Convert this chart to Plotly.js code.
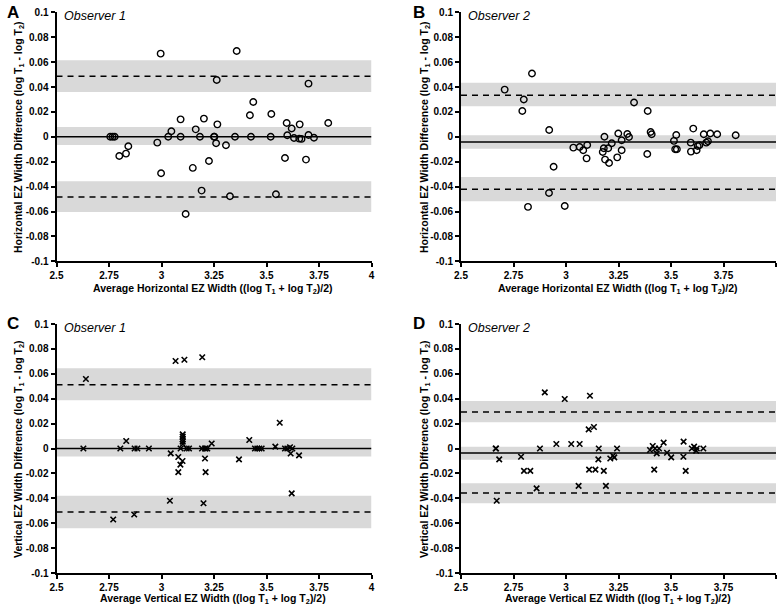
<!DOCTYPE html>
<html>
<head>
<meta charset="utf-8">
<script src="https://cdn.plot.ly/plotly-3.0.1.min.js"></script>
<style>html,body{margin:0;padding:0;background:#fff;}#chart{width:779px;height:606px;}</style>
</head>
<body>
<div id="chart"></div>
<script>
// ---------- Data ----------
const xTickVals = [2.5, 2.75, 3, 3.25, 3.5, 3.75, 4];
const xTickText = ['2.5', '2.75', '3', '3.25', '3.5', '3.75', '4'];
const yTickVals = [-0.1, -0.08, -0.06, -0.04, -0.02, 0, 0.02, 0.04, 0.06, 0.08, 0.1];
const yTickText = ['-0.1', '-0.08', '-0.06', '-0.04', '-0.02', '0', '0.02', '0.04', '0.06', '0.08', '0.1'];
const xRange = [2.5, 4];
const yRange = [-0.1, 0.1];

const panelLetters = ['A', 'B', 'C', 'D'];
const observerLabels = ['Observer 1', 'Observer 2', 'Observer 1', 'Observer 2'];

// Panel A: horizontal, observer 1
const aX = [2.756, 2.767, 2.777, 2.799, 2.831, 2.842, 2.98, 2.996, 2.998, 3.032, 3.047, 3.091, 3.091, 3.115, 3.149, 3.163, 3.183, 3.191, 3.202, 3.226, 3.25, 3.252, 3.26, 3.263, 3.266, 3.307, 3.326, 3.35, 3.358, 3.421, 3.426, 3.437, 3.52, 3.523, 3.545, 3.588, 3.596, 3.599, 3.62, 3.631, 3.656, 3.658, 3.667, 3.688, 3.70, 3.70, 3.726, 3.794];
const aY = [0, 0, 0, -0.0154, -0.0135, -0.0076, -0.0047, 0.0668, -0.0293, 0, 0.0044, 0.014, 0, -0.062, -0.025, 0.006, 0, -0.0432, 0.0146, -0.0194, 0, 0, -0.0052, 0.0456, 0.010, -0.0068, -0.0478, 0, 0.0689, 0.0173, 0, 0.028, 0, 0.0183, -0.0462, -0.017, 0.0111, 0.0013, 0.0067, -0.001, -0.0015, 0.010, -0.0017, -0.0183, 0.0427, 0.0015, -0.0008, 0.0111];

// Panel B: horizontal, observer 2
const bX = [2.708, 2.792, 2.799, 2.819, 2.838, 2.919, 2.92, 2.941, 2.994, 3.035, 3.065, 3.082, 3.098, 3.101, 3.175, 3.18, 3.183, 3.186, 3.201, 3.205, 3.218, 3.244, 3.249, 3.265, 3.265, 3.292, 3.30, 3.324, 3.387, 3.389, 3.403, 3.408, 3.514, 3.525, 3.52, 3.528, 3.594, 3.595, 3.606, 3.622, 3.627, 3.635, 3.656, 3.668, 3.676, 3.687, 3.72, 3.808];
const bY = [0.0379, 0.0207, 0.0299, -0.0563, 0.0508, -0.0451, 0.0055, -0.024, -0.0556, -0.0087, -0.0082, -0.0108, -0.0173, -0.0066, -0.0122, -0.0092, 0, -0.0183, -0.0092, -0.021, -0.0052, -0.0165, 0.0026, -0.0028, -0.0108, 0.0022, -0.0002, 0.0275, -0.0138, 0.0207, 0.0039, 0.002, -0.0033, 0.0015, -0.010, -0.010, -0.0047, -0.0119, 0.0066, -0.0108, -0.0074, -0.0068, 0.002, -0.0047, -0.0036, 0.0026, 0.002, 0.0012];

// Panel C: vertical, observer 1
const cX = [2.628, 2.64, 2.77, 2.804, 2.832, 2.87, 2.872, 2.885, 2.94, 3.04, 3.044, 3.067, 3.08, 3.08, 3.09, 3.091, 3.1, 3.101, 3.101, 3.101, 3.101, 3.101, 3.109, 3.12, 3.131, 3.193, 3.194, 3.2, 3.207, 3.207, 3.21, 3.21, 3.218, 3.239, 3.369, 3.418, 3.445, 3.456, 3.466, 3.477, 3.542, 3.563, 3.588, 3.599, 3.612, 3.615, 3.62, 3.623, 3.655];
const cY = [0, 0.0558, -0.057, 0, 0.006, -0.053, 0, 0, 0, -0.042, -0.0039, 0.0703, -0.0068, -0.019, -0.013, 0, -0.010, 0.0114, 0.0095, 0.0074, 0.0055, 0.0036, 0.0713, 0, 0, 0, 0.0733, -0.044, 0, -0.008, 0, -0.019, 0, 0.004, -0.0087, 0.0068, 0, 0, 0, 0, 0.0015, 0.0207, 0, 0, 0.001, -0.004, -0.036, 0, -0.0055];

// Panel D: vertical, observer 2
const dX = [2.665, 2.667, 2.67, 2.682, 2.786, 2.80, 2.83, 2.86, 2.876, 2.899, 2.954, 2.994, 3.025, 3.06, 3.065, 3.108, 3.11, 3.114, 3.133, 3.14, 3.154, 3.156, 3.18, 3.19, 3.211, 3.224, 3.23, 3.243, 3.40, 3.413, 3.42, 3.424, 3.432, 3.443, 3.465, 3.481, 3.501, 3.559, 3.56, 3.57, 3.599, 3.61, 3.62, 3.623, 3.654];
const dY = [0, 0, -0.042, -0.0087, -0.0066, -0.018, -0.018, -0.032, 0, 0.0451, 0.0036, 0.0398, 0.0036, -0.030, 0.0036, 0.0154, -0.017, 0.0424, 0.0173, -0.017, -0.0087, 0, -0.018, -0.030, -0.008, -0.0058, -0.0071, 0, -0.0012, 0.002, -0.017, 0, -0.0039, 0, 0.0047, -0.0034, -0.0071, -0.0066, 0.0055, -0.018, 0, 0.0015, -0.0018, 0, 0];

// Bland-Altman statistics per panel: bias, bias CI, upper LoA, upper CI, lower LoA, lower CI
const biasVals = [0, -0.0042, 0, -0.0036];
const biasCI = [[-0.0065, 0.0078], [-0.0095, 0.0012], [-0.0065, 0.0076], [-0.009, 0.0015]];
const upperVals = [0.0486, 0.0333, 0.0513, 0.0293];
const upperCI = [[0.036, 0.0614], [0.0245, 0.0435], [0.0387, 0.0644], [0.021, 0.0382]];
const lowerVals = [-0.0483, -0.0422, -0.051, -0.0357];
const lowerCI = [[-0.0604, -0.0357], [-0.0518, -0.0323], [-0.064, -0.038], [-0.044, -0.028]];

const yTitles = [
  'Horizontal EZ Width Difference (log T<sub>1</sub> - log T<sub>2</sub>)',
  'Horizontal EZ Width Difference (log T<sub>1</sub> - log T<sub>2</sub>)',
  'Vertical EZ Width Difference (log T<sub>1</sub> - log T<sub>2</sub>)',
  'Vertical EZ Width Difference (log T<sub>1</sub> - log T<sub>2</sub>)'
];
const xTitles = [
  'Average Horizontal EZ Width ((log T<sub>1</sub> + log T<sub>2</sub>)/2)',
  'Average Horizontal EZ Width ((log T<sub>1</sub> + log T<sub>2</sub>)/2)',
  'Average Vertical EZ Width ((log T<sub>1</sub> + log T<sub>2</sub>)/2)',
  'Average Vertical EZ Width ((log T<sub>1</sub> + log T<sub>2</sub>)/2)'
];

// ---------- Layout geometry (pixels) ----------
const W = 779, H = 606;
const FONT = 'Arial, "Liberation Sans", sans-serif';
const panelPx = [
  {x0: 56.5, x1: 371.5, y0: 12.3, y1: 261.3},
  {x0: 461, x1: 776, y0: 12.3, y1: 261.3},
  {x0: 56.5, x1: 371.5, y0: 324, y1: 573},
  {x0: 461, x1: 776, y0: 324, y1: 573}
];
const letterPos = [[13, 12], [419, 12], [13, 323], [419, 323]];
const yTitlePos = [[19, 137], [425, 137], [19, 449], [425, 449]];
const xTitlePos = [[213, 288.5], [618, 288.5], [213, 599], [618, 599]];

const px2x = p => p / W;
const px2y = p => 1 - p / H;

const series = [[aX, aY, 'circle-open'], [bX, bY, 'circle-open'], [cX, cY, 'x-thin-open'], [dX, dY, 'x-thin-open']];

const traces = [];
const shapes = [];
const annotations = [];
const layout = {
  width: W, height: H,
  margin: {l: 0, r: 0, t: 0, b: 0},
  paper_bgcolor: '#ffffff', plot_bgcolor: 'rgba(0,0,0,0)',
  showlegend: false,
  font: {family: FONT, color: '#000'}
};

for (let i = 0; i < 4; i++) {
  const sfx = i === 0 ? '' : String(i + 1);
  const xa = 'x' + sfx, ya = 'y' + sfx;
  const p = panelPx[i];
  const axisCommon = {
    showline: true, linecolor: '#000', linewidth: 2,
    ticks: 'outside', ticklen: 4, tickwidth: 2, tickcolor: '#000',
    showgrid: false, zeroline: false, fixedrange: true,
    tickfont: {family: FONT, size: 10, weight: 'bold', color: '#000'}
  };
  layout['xaxis' + sfx] = Object.assign({}, axisCommon, {
    domain: [px2x(p.x0), px2x(p.x1)], anchor: ya, range: xRange,
    tickmode: 'array', tickvals: xTickVals, ticktext: xTickText
  });
  layout['yaxis' + sfx] = Object.assign({}, axisCommon, {
    domain: [px2y(p.y1), px2y(p.y0)], anchor: xa, range: yRange,
    tickmode: 'array', tickvals: yTickVals, ticktext: yTickText
  });

  // CI bands
  [biasCI[i], upperCI[i], lowerCI[i]].forEach(ci => {
    shapes.push({type: 'rect', xref: xa, yref: ya, x0: xRange[0], x1: xRange[1], y0: ci[0], y1: ci[1],
      fillcolor: '#d9d9d9', line: {width: 0}, layer: 'below'});
  });
  // bias line (solid)
  traces.push({x: xRange, y: [biasVals[i], biasVals[i]], xaxis: xa, yaxis: ya, mode: 'lines',
    line: {color: '#000', width: 1.5}, hoverinfo: 'skip'});
  // limits of agreement (dashed)
  [upperVals[i], lowerVals[i]].forEach(v => {
    traces.push({x: xRange, y: [v, v], xaxis: xa, yaxis: ya, mode: 'lines',
      line: {color: '#000', width: 1.5, dash: '6px,5px'}, hoverinfo: 'skip'});
  });
  // points
  const s = series[i];
  traces.push({x: s[0], y: s[1], xaxis: xa, yaxis: ya, mode: 'markers', type: 'scatter',
    marker: {symbol: s[2], size: s[2] === 'circle-open' ? 6.5 : 5.5, color: '#000',
      line: {color: '#000', width: s[2] === 'circle-open' ? 1.4 : 1.6}}});

  // annotations
  annotations.push({xref: 'paper', yref: 'paper', x: px2x(letterPos[i][0]), y: px2y(letterPos[i][1]),
    text: panelLetters[i], showarrow: false, xanchor: 'center', yanchor: 'middle',
    font: {family: FONT, size: 17, weight: 'bold', color: '#000'}});
  annotations.push({xref: 'paper', yref: 'paper', x: px2x(p.x0 + 5), y: px2y(p.y0 + 3.5),
    text: '<i>' + observerLabels[i] + '</i>', showarrow: false, xanchor: 'left', yanchor: 'middle',
    font: {family: FONT, size: 12.5, color: '#000'}});
  annotations.push({xref: 'paper', yref: 'paper', x: px2x(yTitlePos[i][0]), y: px2y(yTitlePos[i][1]),
    text: '<b>' + yTitles[i] + '</b>', showarrow: false, textangle: -90, xanchor: 'center', yanchor: 'middle',
    font: {family: FONT, size: 10.5, color: '#000'}});
  annotations.push({xref: 'paper', yref: 'paper', x: px2x(xTitlePos[i][0]), y: px2y(xTitlePos[i][1]),
    text: '<b>' + xTitles[i] + '</b>', showarrow: false, xanchor: 'center', yanchor: 'middle',
    font: {family: FONT, size: 10.5, color: '#000'}});
}
layout.shapes = shapes;
layout.annotations = annotations;

Plotly.newPlot('chart', traces, layout, {displayModeBar: false, staticPlot: true});
</script>
</body>
</html>
